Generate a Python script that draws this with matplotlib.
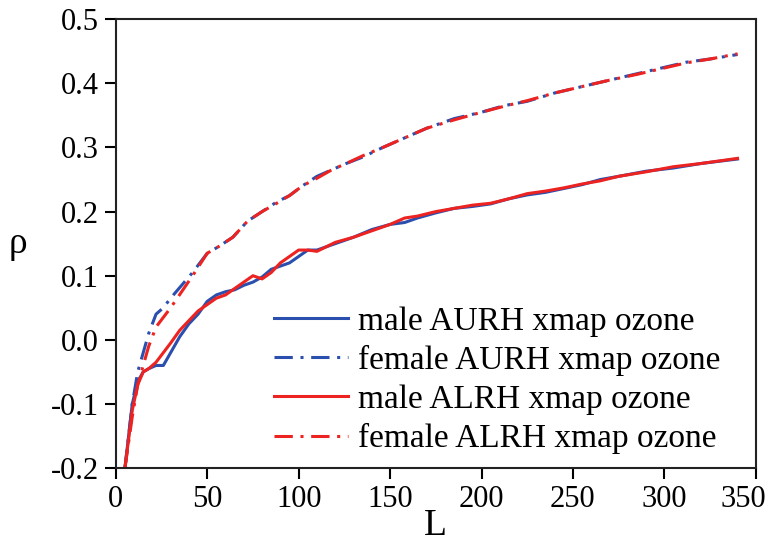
import numpy as np
import matplotlib
matplotlib.use("Agg")
import matplotlib.pyplot as plt
import matplotlib.transforms as mtransforms

plt.rcParams['font.family'] = ['Liberation Serif', 'DejaVu Serif']

# female curves (dash-dot)
L_female = [5, 7, 9, 12, 15, 18, 22, 26, 30, 36, 42, 50, 56, 64, 72, 80, 88, 95,
            102, 110, 118, 126, 135, 146, 158, 170, 185, 200, 212, 225, 240, 255,
            270, 285, 300, 312, 325, 340]
female_aurh = [-0.20, -0.15, -0.10, -0.05, -0.02, 0.01, 0.04, 0.05, 0.065, 0.085,
               0.105, 0.135, 0.145, 0.16, 0.185, 0.20, 0.215, 0.225, 0.24, 0.255,
               0.265, 0.275, 0.285, 0.30, 0.315, 0.33, 0.345, 0.355, 0.365, 0.372,
               0.385, 0.395, 0.405, 0.415, 0.425, 0.433, 0.438, 0.445]
female_alrh = [-0.20, -0.16, -0.12, -0.07, -0.04, -0.01, 0.02, 0.035, 0.05, 0.075,
               0.10, 0.135, 0.145, 0.16, 0.185, 0.20, 0.213, 0.225, 0.24, 0.252,
               0.265, 0.275, 0.287, 0.30, 0.315, 0.33, 0.343, 0.355, 0.364, 0.373,
               0.385, 0.395, 0.405, 0.414, 0.424, 0.432, 0.438, 0.446]

# male curves (solid)
L_male = [5, 7, 9, 12, 15, 18, 22, 26, 30, 35, 40, 45, 50, 55, 60, 65, 70, 75, 80,
          85, 90, 95, 100, 105, 110, 115, 120, 130, 140, 150, 158, 165, 175, 185,
          195, 205, 215, 225, 235, 245, 255, 265, 275, 290, 305, 320, 340]
male_alrh = [-0.20, -0.155, -0.11, -0.07, -0.05, -0.045, -0.035, -0.02, -0.005,
             0.015, 0.03, 0.045, 0.055, 0.065, 0.07, 0.08, 0.09, 0.10, 0.095, 0.105,
             0.12, 0.13, 0.14, 0.14, 0.138, 0.145, 0.152, 0.16, 0.17, 0.18, 0.19,
             0.193, 0.20, 0.205, 0.21, 0.213, 0.22, 0.228, 0.232, 0.237, 0.243,
             0.248, 0.255, 0.262, 0.27, 0.275, 0.283]
male_aurh = [-0.20, -0.15, -0.10, -0.065, -0.05, -0.045, -0.04, -0.04, -0.02,
             0.005, 0.025, 0.04, 0.06, 0.07, 0.075, 0.078, 0.085, 0.09, 0.098, 0.11,
             0.115, 0.12, 0.13, 0.14, 0.14, 0.145, 0.15, 0.16, 0.172, 0.18, 0.183,
             0.19, 0.198, 0.205, 0.208, 0.212, 0.22, 0.226, 0.23, 0.236, 0.242,
             0.25, 0.255, 0.263, 0.268, 0.275, 0.282]

blue = '#2b4fae'
red = '#ec2320'
dashdot = (6, 2.5, 1, 2.5)

fig = plt.figure(figsize=(7.72, 5.5), dpi=100)
ax = fig.add_axes([0.150, 0.149, 0.829, 0.816])

ax.plot(L_male, male_aurh, color=blue, lw=2.2, label='male AURH xmap ozone')
ax.plot(L_female, female_aurh, color=blue, lw=2.2, dashes=dashdot,
        label='female AURH xmap ozone')
ax.plot(L_male, male_alrh, color=red, lw=2.2, label='male ALRH xmap ozone')
ax.plot(L_female, female_alrh, color=red, lw=2.2, dashes=dashdot,
        label='female ALRH xmap ozone')

ax.set_xlim(0, 350)
ax.set_ylim(-0.2, 0.5)
ax.set_xticks(np.arange(0, 351, 50))
ax.set_yticks(np.arange(-0.2, 0.51, 0.1))
ax.set_yticklabels(['-0.2', '-0.1', '0.0', '0.1', '0.2', '0.3', '0.4', '0.5'])
ax.tick_params(direction='out', length=8, width=1.5, labelsize=22, pad=4)
for s in ax.spines.values():
    s.set_linewidth(1.5)
    s.set_color('#222222')

# last x label sits a bit left of its tick so it fits in the picture
last = ax.get_xticklabels()[-1]
last.set_transform(last.get_transform() +
                   mtransforms.ScaledTranslation(-12 / 100, 0, fig.dpi_scale_trans))

ax.set_xlabel('L', fontsize=27, labelpad=-4)
ax.set_ylabel('ρ', fontsize=27, rotation=0, labelpad=24, va='center')

ax.legend(loc='lower right', bbox_to_anchor=(0.991, -0.036), frameon=False,
          fontsize=24, handlelength=2.2, handletextpad=0.3, labelspacing=0.25)

fig.savefig('out.png', dpi=100)
